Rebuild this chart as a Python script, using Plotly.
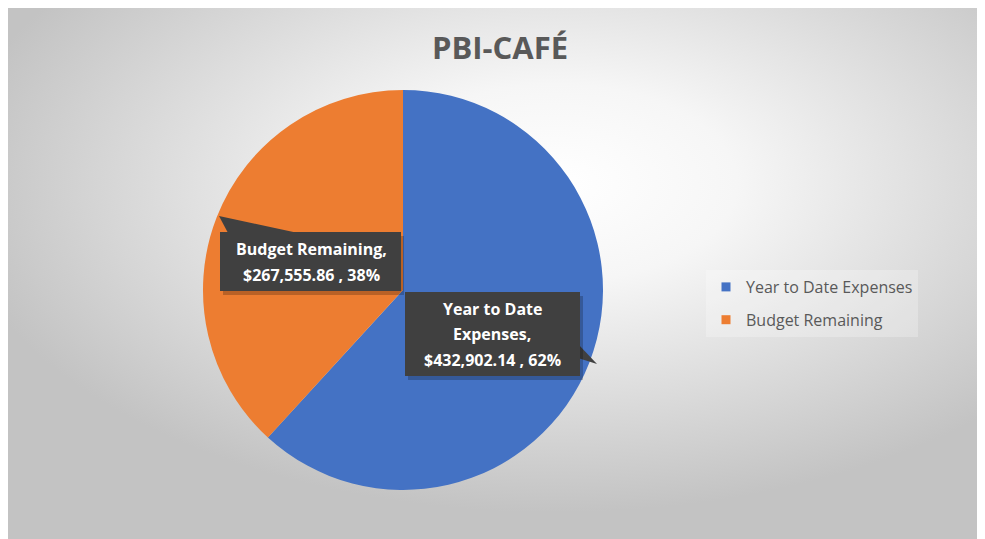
import base64
import plotly.graph_objects as go

categories = ["Year to Date Expenses", "Budget Remaining"]
values = [432902.14, 267555.86]
colors = ["#4472C4", "#ED7D31"]
title_text = "PBI-CAFÉ"

# page has an 8px body margin; figure covers 8..985 x 8..539 of the window
OFF = 8
W, H = 985 - OFF, 539 - OFF
def px(x):
    return (x - OFF) / W
def py(y):
    return 1 - (y - OFF) / H

total = sum(values)
pcts = [v / total * 100 for v in values]

fig = go.Figure()
fig.add_trace(go.Pie(
    labels=categories, values=values, sort=False, direction="clockwise", rotation=0,
    marker=dict(colors=colors, line=dict(width=0)),
    textinfo="none", hoverinfo="label+value+percent", showlegend=False,
    domain=dict(x=[px(203), px(603)], y=[py(491), py(89)]),
))
# legend entries
for i, (c, col) in enumerate(zip(categories, colors)):
    fig.add_trace(go.Scatter(x=[None], y=[None], mode="markers", name=c,
                             marker=dict(symbol="square", size=9, color=col),
                             legendgroup=str(i), showlegend=True))

svg = ("<svg xmlns='http://www.w3.org/2000/svg' width='977' height='531' preserveAspectRatio='none'>"
       "<defs><radialGradient id='g' cx='0.56' cy='0.33' r='0.62'>"
       "<stop offset='0' stop-color='#ffffff'/><stop offset='0.3' stop-color='#f6f6f6'/>"
       "<stop offset='1' stop-color='#c3c3c3'/></radialGradient></defs>"
       "<rect width='977' height='531' fill='url(#g)'/></svg>")
src = "data:image/svg+xml;base64," + base64.b64encode(svg.encode()).decode()

shapes = []
annotations = []
box_fill = "#404040"
shadow = "rgba(0,0,0,0.22)"

def box(x0, y0, x1, y1):
    shapes.append(dict(type="rect", xref="paper", yref="paper", x0=px(x0 + 3), x1=px(x1 + 3),
                       y0=py(y1 + 4), y1=py(y0 + 4), fillcolor=shadow, line=dict(width=0), layer="above"))
    shapes.append(dict(type="rect", xref="paper", yref="paper", x0=px(x0), x1=px(x1),
                       y0=py(y1), y1=py(y0), fillcolor=box_fill, line=dict(width=0), layer="above"))

def pointer(pts):
    path = "M " + " L ".join(f"{px(x)},{py(y)}" for x, y in pts) + " Z"
    shapes.append(dict(type="path", xref="paper", yref="paper", path=path,
                       fillcolor=box_fill, line=dict(width=0), layer="above"))

def lines(cx, ys, texts):
    for y, t in zip(ys, texts):
        annotations.append(dict(text=t, x=px(cx), y=py(y), xref="paper", yref="paper",
                                showarrow=False, xanchor="center", yanchor="middle",
                                font=dict(family="Open Sans", size=16, color="white", weight="bold")))

# Budget Remaining label
pointer([(219, 216), (228, 233), (298, 233)])
box(220, 232, 401, 291)
lines(311, [249, 275], [f"{categories[1]},", f"${values[1]:,.2f} , {pcts[1]:.0f}%"])

# Year to Date Expenses label
pointer([(578, 344), (597, 364), (578, 358)])
box(405, 292, 580, 376)
ytd_words = categories[0].rsplit(" ", 1)
lines(492, [309, 334, 360], [ytd_words[0], ytd_words[1] + ",", f"${values[0]:,.2f} , {pcts[0]:.0f}%"])

fig.update_layout(
    width=W, height=H, margin=dict(l=0, r=0, t=0, b=0),
    paper_bgcolor="#e6e6e6", plot_bgcolor="rgba(0,0,0,0)",
    xaxis=dict(visible=False), yaxis=dict(visible=False),
    images=[dict(source=src, xref="paper", yref="paper", x=0, y=1, sizex=1, sizey=1,
                 sizing="stretch", layer="below", xanchor="left", yanchor="top")],
    title=dict(text=title_text, x=px(500), y=py(48), xanchor="center", yanchor="middle",
               font=dict(family="Open Sans", size=31, color="#595959", weight="bold")),
    legend=dict(x=px(706), y=py(270), xanchor="left", yanchor="top",
                bgcolor="rgba(255,255,255,0.25)", tracegroupgap=9,
                font=dict(family="Open Sans", size=16, color="#595959"),
                itemwidth=30),
    shapes=shapes, annotations=annotations,
)
fig.write_html("out.html", default_width=f"{W}px", default_height=f"{H}px")
